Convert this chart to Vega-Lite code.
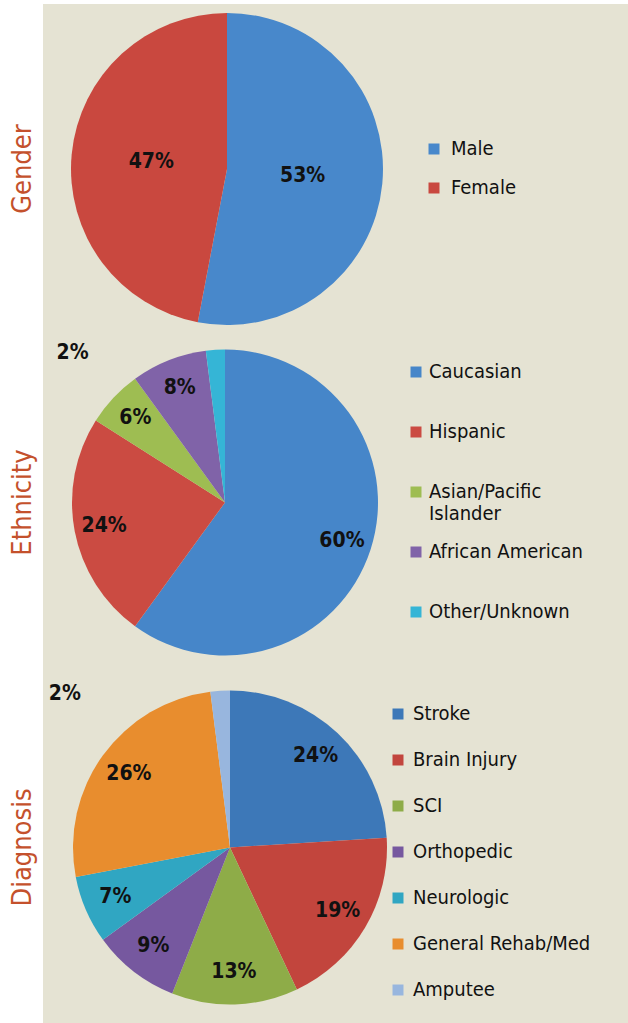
{
  "$schema": "https://vega.github.io/schema/vega-lite/v6.json",
  "background": "white",
  "padding": {"left": 8, "top": 4, "right": 0, "bottom": 0},
  "spacing": 0,
  "config": {
    "view": {"stroke": null, "strokeWidth": 0, "fill": "#e5e3d3"},
    "font": "DejaVu Sans Condensed, sans-serif",
    "title": {"orient": "left", "anchor": "middle", "fontSize": 27, "fontWeight": "normal", "color": "#c4512c", "offset": 6, "font": "DejaVu Sans Condensed, sans-serif"},
    "legend": {
      "orient": "none", "title": null, "symbolType": "square", "symbolSize": 121, "symbolStrokeWidth": 0,
      "labelFont": "DejaVu Sans Condensed, sans-serif",
      "labelFontSize": 20, "labelColor": "#111111", "labelBaseline": "middle", "padding": 0, "labelLimit": 300
    }
  },
  "datasets": {
    "gender": [
      {"cat": "Male", "share": 0.53, "ord": 1},
      {"cat": "Female", "share": 0.47, "ord": 2}
    ],
    "ethnicity": [
      {"cat": "Caucasian", "share": 0.60, "ord": 1},
      {"cat": "Hispanic", "share": 0.24, "ord": 2},
      {"cat": "Asian/Pacific Islander", "share": 0.06, "ord": 3},
      {"cat": "African American", "share": 0.08, "ord": 4},
      {"cat": "Other/Unknown", "share": 0.02, "ord": 5}
    ],
    "diagnosis": [
      {"cat": "Stroke", "share": 0.24, "ord": 1},
      {"cat": "Brain Injury", "share": 0.19, "ord": 2},
      {"cat": "SCI", "share": 0.13, "ord": 3},
      {"cat": "Orthopedic", "share": 0.09, "ord": 4},
      {"cat": "Neurologic", "share": 0.07, "ord": 5},
      {"cat": "General Rehab/Med", "share": 0.26, "ord": 6},
      {"cat": "Amputee", "share": 0.02, "ord": 7}
    ]
  },
  "vconcat": [
    {
      "hconcat": [
        {
          "title": "Gender",
          "width": 368, "height": 330,
          "view": {"fill": "#e5e3d3", "stroke": null},
          "data": {"name": "gender"},
          "encoding": {
            "theta": {"field": "share", "type": "quantitative", "stack": true},
            "order": {"field": "ord", "type": "quantitative"},
            "detail": {"field": "cat", "type": "nominal"}
          },
          "layer": [
            {
              "mark": {"type": "arc", "outerRadius": 156},
              "encoding": {
                "color": {
                  "field": "cat", "type": "nominal",
                  "scale": {"domain": ["Male", "Female"], "range": ["#4888cb", "#c9483f"]},
                  "legend": {"legendX": 381, "legendY": 135, "rowPadding": 19, "labelOffset": 7}
                }
              }
            },
            {
              "mark": {"type": "text", "radius": 76, "fontSize": 21, "fontWeight": "bold", "fill": "#111111"},
              "encoding": {"text": {"field": "share", "type": "quantitative", "format": ".0%"}}
            }
          ]
        },
        {"width": 219, "height": 330, "view": {"fill": "#e5e3d3", "stroke": null}, "data": {"values": [{}]}, "mark": {"type": "text", "text": ""}}
      ],
      "spacing": 0,
      "bounds": "flush"
    },
    {
      "hconcat": [
        {
          "title": "Ethnicity",
          "width": 364, "height": 337,
          "view": {"fill": "#e5e3d3", "stroke": null},
          "data": {"name": "ethnicity"},
          "layer": [
            {
              "encoding": {
                "theta": {"field": "share", "type": "quantitative", "stack": true},
                "order": {"field": "ord", "type": "quantitative"},
                "detail": {"field": "cat", "type": "nominal"}
              },
              "layer": [
                {
                  "mark": {"type": "arc", "outerRadius": 153},
                  "encoding": {
                    "color": {
                      "field": "cat", "type": "nominal",
                      "scale": {
                        "domain": ["Caucasian", "Hispanic", "Asian/Pacific Islander", "African American", "Other/Unknown"],
                        "range": ["#4686c9", "#cb4b42", "#9ebd52", "#8063a8", "#35b5d6"]
                      },
                      "legend": {
                        "legendX": 363, "legendY": 28, "rowPadding": 18, "labelOffset": 3, "gridAlign": "all",
                        "labelExpr": "datum.label == 'Asian/Pacific Islander' ? ['Asian/Pacific', 'Islander'] : datum.label"
                      }
                    }
                  }
                },
                {
                  "mark": {"type": "text", "radius": 123, "fontSize": 21, "fontWeight": "bold", "fill": "#111111"},
                  "encoding": {
                    "text": {"field": "share", "type": "quantitative", "format": ".0%"},
                    "opacity": {"condition": {"test": "datum.share < 0.03", "value": 0}, "value": 1}
                  }
                }
              ]
            },
            {
              "transform": [{"filter": "datum.share < 0.03"}],
              "mark": {"type": "text", "radius": 153, "dx": -162, "dy": 3, "fontSize": 21, "fontWeight": "bold", "fill": "#111111"},
              "encoding": {
                "theta": {"field": "share", "type": "quantitative", "stack": true},
                "text": {"field": "share", "type": "quantitative", "format": ".0%"}
              }
            }
          ]
        },
        {"width": 223, "height": 337, "view": {"fill": "#e5e3d3", "stroke": null}, "data": {"values": [{}]}, "mark": {"type": "text", "text": ""}}
      ],
      "spacing": 0,
      "bounds": "flush"
    },
    {
      "hconcat": [
        {
          "title": "Diagnosis",
          "width": 374, "height": 353,
          "view": {"fill": "#e5e3d3", "stroke": null},
          "data": {"name": "diagnosis"},
          "layer": [
            {
              "encoding": {
                "theta": {"field": "share", "type": "quantitative", "stack": true},
                "order": {"field": "ord", "type": "quantitative"},
                "detail": {"field": "cat", "type": "nominal"}
              },
              "layer": [
                {
                  "mark": {"type": "arc", "outerRadius": 157},
                  "encoding": {
                    "color": {
                      "field": "cat", "type": "nominal",
                      "scale": {
                        "domain": ["Stroke", "Brain Injury", "SCI", "Orthopedic", "Neurologic", "General Rehab/Med", "Amputee"],
                        "range": ["#3d78b8", "#c2453d", "#8eac48", "#76589f", "#30a6c2", "#e88d2e", "#98b6de"]
                      },
                      "legend": {"legendX": 345, "legendY": 33, "rowPadding": 26, "labelOffset": 5}
                    }
                  }
                },
                {
                  "mark": {"type": "text", "radius": 125, "fontSize": 21, "fontWeight": "bold", "fill": "#111111"},
                  "encoding": {
                    "text": {"field": "share", "type": "quantitative", "format": ".0%"},
                    "opacity": {"condition": {"test": "datum.share < 0.03", "value": 0}, "value": 1}
                  }
                }
              ]
            },
            {
              "transform": [{"filter": "datum.share < 0.03"}],
              "mark": {"type": "text", "radius": 157, "dx": -175, "dy": 3, "fontSize": 21, "fontWeight": "bold", "fill": "#111111"},
              "encoding": {
                "theta": {"field": "share", "type": "quantitative", "stack": true},
                "text": {"field": "share", "type": "quantitative", "format": ".0%"}
              }
            }
          ]
        },
        {"width": 213, "height": 353, "view": {"fill": "#e5e3d3", "stroke": null}, "data": {"values": [{}]}, "mark": {"type": "text", "text": ""}}
      ],
      "spacing": 0,
      "bounds": "flush"
    }
  ],
  "resolve": {"scale": {"color": "independent", "theta": "independent"}, "legend": {"color": "independent"}}
}
